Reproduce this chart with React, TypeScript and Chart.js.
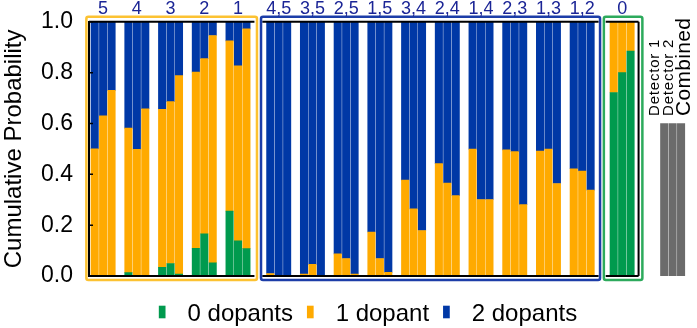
import React, { useEffect, useRef } from "react";
import { Chart, registerables } from "chart.js";

Chart.register(...registerables);

const FONT = "'Liberation Sans', Arial, Helvetica, sans-serif";

// Dopant sites probed in each panel
const singleSites = ["5", "4", "3", "2", "1"];
const pairSites = ["4,5", "3,5", "2,5", "1,5", "3,4", "2,4", "1,4", "2,3", "1,3", "1,2"];
const emptySites = ["0"];
const detectors = ["Detector 1", "Detector 2", "Combined"];
const seriesLabels = ["0 dopants", "1 dopant", "2 dopants"];

// Probabilities per bar (Detector 1, Detector 2, Combined for every site)
const singleZero = [0, 0, 0, 0.013, 0, 0, 0.034, 0.049, 0.008, 0.109, 0.166, 0.052, 0.255, 0.138, 0.108];
const singleOne = [0.5, 0.63, 0.73, 0.569, 0.498, 0.658, 0.622, 0.637, 0.78, 0.693, 0.689, 0.894, 0.67, 0.689, 0.864];
const singleTwo = [0.5, 0.37, 0.27, 0.418, 0.502, 0.342, 0.344, 0.314, 0.212, 0.198, 0.145, 0.054, 0.075, 0.173, 0.028];

const pairZero = [0, 0, 0, 0, 0, 0, 0, 0, 0, 0, 0, 0, 0, 0, 0, 0, 0, 0, 0, 0, 0, 0, 0, 0, 0, 0, 0, 0, 0, 0];
const pairOne = [
  0.01, 0, 0, 0.008, 0.046, 0, 0.087, 0.069, 0.008, 0.173, 0.069, 0.014, 0.377, 0.264, 0.179,
  0.442, 0.366, 0.316, 0.499, 0.301, 0.301, 0.496, 0.489, 0.281, 0.491, 0.499, 0.364, 0.422, 0.413, 0.338,
];
const pairTwo = [
  0.99, 1, 1, 0.992, 0.954, 1, 0.913, 0.931, 0.992, 0.827, 0.931, 0.986, 0.623, 0.736, 0.821,
  0.558, 0.634, 0.684, 0.501, 0.699, 0.699, 0.504, 0.511, 0.719, 0.509, 0.501, 0.636, 0.578, 0.587, 0.662,
];

const emptyZero = [0.722, 0.8, 0.885];
const emptyOne = [0.278, 0.2, 0.115];
const emptyTwo = [0, 0, 0];

// Height of the grey key bars under the detector names
const keyHeights = [0.6, 0.6, 0.6];

const yTicks = [0, 0.2, 0.4, 0.6, 0.8, 1.0];

const GREEN = "#009A4E";
const ORANGE = "#FFAA00";
const BLUE = "#0038A6";
const GREY = "#6B6B6B";
const LABEL_BLUE = "#1B2596";
const BAR_W = 7.4;

// Panel layout in bar-slot units along a linear x axis
const panels = [
  { sites: singleSites, start: 0, frame: "#FCC232", framePad: [0.99, 1.25], boxLeftAxis: true },
  { sites: pairSites, start: 20.83, frame: "#1C3DA8", framePad: [1.1, 1.12], boxLeftAxis: false },
  { sites: emptySites, start: 61.57, frame: "#2DAA5C", framePad: [1.17, 1.4], boxLeftAxis: false, rightWall: true },
];
const keyStart = 67.56;

const positions: number[] = [];
panels.forEach((p) => {
  p.sites.forEach((_, g) => {
    for (let b = 0; b < 3; b++) positions.push(p.start + g * 4 + b);
  });
});
const keyPositions = detectors.map((_, i) => keyStart + i);

const zeroAll = [...singleZero, ...pairZero, ...emptyZero];
const oneAll = [...singleOne, ...pairOne, ...emptyOne];
const twoAll = [...singleTwo, ...pairTwo, ...emptyTwo];

const toPoints = (vals: number[]) => positions.map((x, i) => ({ x, y: vals[i] }));

const decorations = {
  id: "decorations",
  afterDatasetsDraw(chart: any) {
    const { ctx, chartArea } = chart;
    const xs = chart.scales.x;
    const ys = chart.scales.y;
    const top = chartArea.top;
    const bottom = chartArea.bottom;
    ctx.save();

    panels.forEach((p) => {
      const last = p.start + p.sites.length * 4 - 2;
      // black panel box
      const bl = p.boxLeftAxis ? chartArea.left : xs.getPixelForValue(p.start - 0.95);
      const br = xs.getPixelForValue(last + 0.95);
      ctx.strokeStyle = "#000";
      ctx.lineWidth = 2;
      ctx.beginPath();
      ctx.moveTo(bl, top);
      ctx.lineTo(br, top);
      ctx.moveTo(bl, bottom);
      ctx.lineTo(br, bottom);
      if (p.rightWall) {
        ctx.moveTo(br, top);
        ctx.lineTo(br, bottom);
      }
      ctx.stroke();

      // coloured panel frame
      const fl = xs.getPixelForValue(p.start - p.framePad[0]);
      const fr = xs.getPixelForValue(last + p.framePad[1]);
      ctx.strokeStyle = p.frame;
      ctx.lineWidth = 2.5;
      ctx.beginPath();
      ctx.roundRect(fl, top - 5, fr - fl, bottom - top + 9, 2);
      ctx.stroke();

      // site labels
      ctx.fillStyle = LABEL_BLUE;
      ctx.font = `18px ${FONT}`;
      ctx.textAlign = "center";
      ctx.textBaseline = "alphabetic";
      p.sites.forEach((s, g) => {
        ctx.fillText(s, xs.getPixelForValue(p.start + g * 4 + 1), 14);
      });
    });

    // inward tick marks on the y axis
    ctx.strokeStyle = "#000";
    ctx.lineWidth = 1.5;
    ctx.beginPath();
    yTicks.forEach((t) => {
      const py = ys.getPixelForValue(t);
      ctx.moveTo(chartArea.left, py);
      ctx.lineTo(chartArea.left + 4, py);
    });
    ctx.stroke();

    // detector names over the grey key bars
    ctx.fillStyle = "#000";
    ctx.textAlign = "left";
    ctx.textBaseline = "alphabetic";
    const keyText = [
      { dx: -5, size: 15, spacing: "0.8px" },
      { dx: 0, size: 15, spacing: "0.8px" },
      { dx: 8.5, size: 21, spacing: "0.3px" },
    ];
    detectors.forEach((d, i) => {
      ctx.save();
      ctx.translate(xs.getPixelForValue(keyPositions[i]) + keyText[i].dx, 116);
      ctx.rotate(-Math.PI / 2);
      ctx.font = `${keyText[i].size}px ${FONT}`;
      (ctx as any).letterSpacing = keyText[i].spacing;
      ctx.fillText(d, 0, 0);
      ctx.restore();
    });

    // series legend
    const colors = [GREEN, ORANGE, BLUE];
    ctx.font = `24px ${FONT}`;
    const markerW = 6.7;
    const markerGap = 22;
    const itemGap = 14;
    const widths = seriesLabels.map((l) => ctx.measureText(l).width);
    const total = widths.reduce((a, w) => a + w + markerW + markerGap, 0) + itemGap * (seriesLabels.length - 1);
    let lx = 368 - total / 2;
    seriesLabels.forEach((l, i) => {
      ctx.fillStyle = colors[i];
      ctx.fillRect(lx, 305.7, markerW, 12.6);
      lx += markerW + markerGap;
      ctx.fillStyle = "#000";
      ctx.fillText(l, lx, 320.5);
      lx += widths[i] + itemGap;
    });

    ctx.restore();
  },
};

export default function App() {
  const ref = useRef<HTMLCanvasElement>(null);

  useEffect(() => {
    const chart = new Chart(ref.current as HTMLCanvasElement, {
      type: "bar",
      data: {
        datasets: [
          { label: seriesLabels[0], data: toPoints(zeroAll), backgroundColor: GREEN, barThickness: BAR_W },
          { label: seriesLabels[1], data: toPoints(oneAll), backgroundColor: ORANGE, barThickness: BAR_W },
          { label: seriesLabels[2], data: toPoints(twoAll), backgroundColor: BLUE, barThickness: BAR_W },
          {
            label: "key",
            data: keyPositions.map((x, i) => ({ x, y: keyHeights[i] })),
            backgroundColor: GREY,
            barThickness: BAR_W,
          },
        ],
      },
      options: {
        responsive: false,
        animation: false,
        devicePixelRatio: 1,
        layout: { padding: { top: 19.5, right: 7, bottom: 52, left: 0 } },
        plugins: { legend: { display: false }, tooltip: { enabled: false } },
        scales: {
          x: { type: "linear", min: -0.676, max: 70.62, offset: false, stacked: true, display: false },
          y: {
            stacked: true,
            min: 0,
            max: 1,
            afterFit: (s: any) => {
              s.width = 89;
            },
            ticks: {
              stepSize: 0.2,
              callback: (v: any) => Number(v).toFixed(1),
              font: { size: 23, family: FONT },
              color: "#000",
              padding: 8,
            },
            grid: { display: false },
            border: { display: true, color: "#000", width: 2 },
            title: {
              display: true,
              text: "Cumulative Probability",
              font: { size: 24, family: FONT },
              color: "#000",
              padding: 0,
            },
          },
        },
      } as any,
      plugins: [decorations],
    });
    return () => chart.destroy();
  }, []);

  return (
    <div style={{ position: "fixed", left: 0, top: 0, width: 697, height: 328, background: "#fff" }}>
      <canvas ref={ref} width={697} height={328} style={{ display: "block" }} />
    </div>
  );
}
